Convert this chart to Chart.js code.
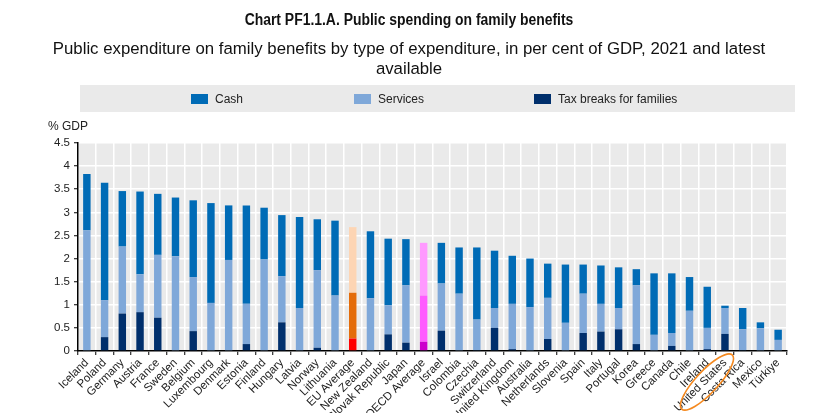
<!DOCTYPE html>
<html>
<head>
<meta charset="utf-8">
<script src="https://cdn.jsdelivr.net/npm/chart.js@4.4.1/dist/chart.umd.min.js"></script>
<style>
  html, body { margin: 0; padding: 0; background: #fff; }
  body { width: 818px; height: 413px; position: relative; overflow: hidden;
         font-family: "Liberation Sans", Arial, sans-serif; color: #111; }
  #title { position: absolute; top: 11px; left: 0; width: 818px; text-align: center;
           font-weight: bold; font-size: 16px; transform: scaleX(0.87); transform-origin: 409px 0; }
  #subtitle { position: absolute; top: 39px; left: 40px; width: 738px; text-align: center;
              font-size: 16.8px; line-height: 20px; }
  #legend { position: absolute; top: 85px; left: 80px; width: 715px; height: 27px; background: #eaeaea; }
  .item { position: absolute; top: 0; height: 27px; display: flex; align-items: center; font-size: 12px; color: #222; }
  .sw { width: 17px; height: 10px; margin-right: 7px; }
  #ylab { position: absolute; top: 119px; left: 48px; font-size: 12px; color: #222; }
  #wrap { position: absolute; top: 0; left: 0; width: 818px; height: 413px; }
</style>
</head>
<body>
<div id="wrap"><canvas id="chart"></canvas></div>
<div id="title">Chart PF1.1.A. Public spending on family benefits</div>
<div id="subtitle">Public expenditure on family benefits by type of expenditure, in per cent of GDP, 2021 and latest available</div>
<div id="legend"></div>
<div id="ylab">% GDP</div>
<script>
const categories = ["Iceland", "Poland", "Germany", "Austria", "France", "Sweden", "Belgium", "Luxembourg",
  "Denmark", "Estonia", "Finland", "Hungary", "Latvia", "Norway", "Lithuania", "EU Average", "New Zealand",
  "Slovak Republic", "Japan", "OECD Average", "Israel", "Colombia", "Czechia", "Switzerland", "United Kingdom",
  "Australia", "Netherlands", "Slovenia", "Spain", "Italy", "Portugal", "Korea", "Greece", "Canada", "Chile",
  "Ireland", "United States", "Costa Rica", "Mexico", "Türkiye"];

const cash = [1.22, 2.54, 1.20, 1.79, 1.32, 1.27, 1.66, 2.16, 1.18, 2.13, 1.12, 1.32, 1.97, 1.10, 1.62, 1.42,
  1.45, 1.44, 1.00, 1.14, 0.88, 1.00, 1.56, 1.24, 1.04, 1.05, 0.74, 1.26, 0.63, 0.83, 0.88, 0.35, 1.33, 1.29,
  0.73, 0.89, 0.05, 0.46, 0.13, 0.22];
const services = [2.61, 0.80, 1.45, 0.82, 1.36, 2.05, 1.17, 1.04, 1.97, 0.87, 1.98, 1.00, 0.93, 1.68, 1.20,
  0.99, 1.14, 0.63, 1.24, 1.00, 1.02, 1.24, 0.66, 0.43, 0.98, 0.95, 0.89, 0.61, 0.85, 0.60, 0.46, 1.27, 0.35,
  0.28, 0.87, 0.46, 0.56, 0.45, 0.49, 0.24];
const taxBreaks = [0, 0.30, 0.81, 0.84, 0.72, 0, 0.43, 0, 0, 0.15, 0, 0.62, 0, 0.07, 0, 0.27, 0, 0.36, 0.18,
  0.20, 0.44, 0, 0.02, 0.50, 0.04, 0, 0.26, 0, 0.39, 0.42, 0.47, 0.15, 0, 0.11, 0, 0.04, 0.37, 0.02, 0, 0];

const yTicks = [0, 0.5, 1, 1.5, 2, 2.5, 3, 3.5, 4, 4.5];

// normal colour, EU average colour, OECD average colour
const palette = {
  cash:     ["#006bb6", "#fdd5b4", "#ff99ff"],
  services: ["#7fa8d9", "#e46c0a", "#ff5bff"],
  tax:      ["#002f6c", "#ff0000", "#cc00cc"]
};

function colorsFor(key) {
  return categories.map(c => {
    if (c === "EU Average") return palette[key][1];
    if (c === "OECD Average") return palette[key][2];
    return palette[key][0];
  });
}

// Legend (HTML, grey band like the original)
const legendItems = [
  { label: "Cash", color: palette.cash[0], left: 111 },
  { label: "Services", color: palette.services[0], left: 274 },
  { label: "Tax breaks for families", color: palette.tax[0], left: 454 }
];
const legend = document.getElementById("legend");
legendItems.forEach(it => {
  legend.innerHTML += `<div class="item" style="left:${it.left}px"><span class="sw" style="background:${it.color}"></span>${it.label}</div>`;
});

const plotBg = {
  id: "plotBg",
  beforeDraw(chart) {
    const { ctx, chartArea: a } = chart;
    ctx.save();
    ctx.fillStyle = "#eaeaea";
    ctx.fillRect(a.left, a.top, a.right - a.left, a.bottom - a.top);
    ctx.restore();
  }
};

// hand drawn orange ring around the United States label
const ring = {
  id: "ring",
  afterDraw(chart) {
    const { ctx, chartArea: a } = chart;
    const x = chart.scales.x.getPixelForValue(categories.indexOf("United States"));
    ctx.save();
    ctx.strokeStyle = "#f5891f";
    ctx.lineWidth = 1.6;
    ctx.beginPath();
    ctx.ellipse(x - 18, a.bottom + 31, 37, 11, -0.82, 0, Math.PI * 2);
    ctx.stroke();
    ctx.restore();
  }
};

const tickFont = { family: "'Liberation Sans', Arial, sans-serif", size: 11.5 };

new Chart(document.getElementById("chart"), {
  type: "bar",
  data: {
    labels: categories,
    datasets: [
      { label: "Tax breaks for families", data: taxBreaks, backgroundColor: colorsFor("tax") },
      { label: "Services", data: services, backgroundColor: colorsFor("services") },
      { label: "Cash", data: cash, backgroundColor: colorsFor("cash") }
    ]
  },
  options: {
    responsive: true,
    maintainAspectRatio: false,
    animation: false,
    layout: { padding: { left: 8, top: 143, right: 31, bottom: 0 } },
    datasets: { bar: { categoryPercentage: 1, barPercentage: 0.42 } },
    plugins: { legend: { display: false }, tooltip: { enabled: false } },
    scales: {
      x: {
        stacked: true,
        grid: { color: "#ffffff", lineWidth: 1.5, tickColor: "#000", tickLength: 4, tickWidth: 1 },
        border: { color: "#000", width: 1.5 },
        ticks: { autoSkip: false, minRotation: 45, maxRotation: 45, padding: 1, color: "#222", font: tickFont },
        afterFit(scale) { scale.height = 62; }
      },
      y: {
        stacked: true,
        min: 0,
        max: 4.5,
        afterBuildTicks(scale) { scale.ticks = yTicks.map(v => ({ value: v })); },
        grid: { color: "#ffffff", lineWidth: 1.5, tickColor: "#000", tickLength: 4, tickWidth: 1 },
        border: { color: "#000", width: 1.5 },
        ticks: { padding: 4, color: "#222", font: tickFont, callback: v => String(v) },
        afterFit(scale) { scale.width = 70; }
      }
    }
  },
  plugins: [plotBg, ring]
});
</script>
</body>
</html>
